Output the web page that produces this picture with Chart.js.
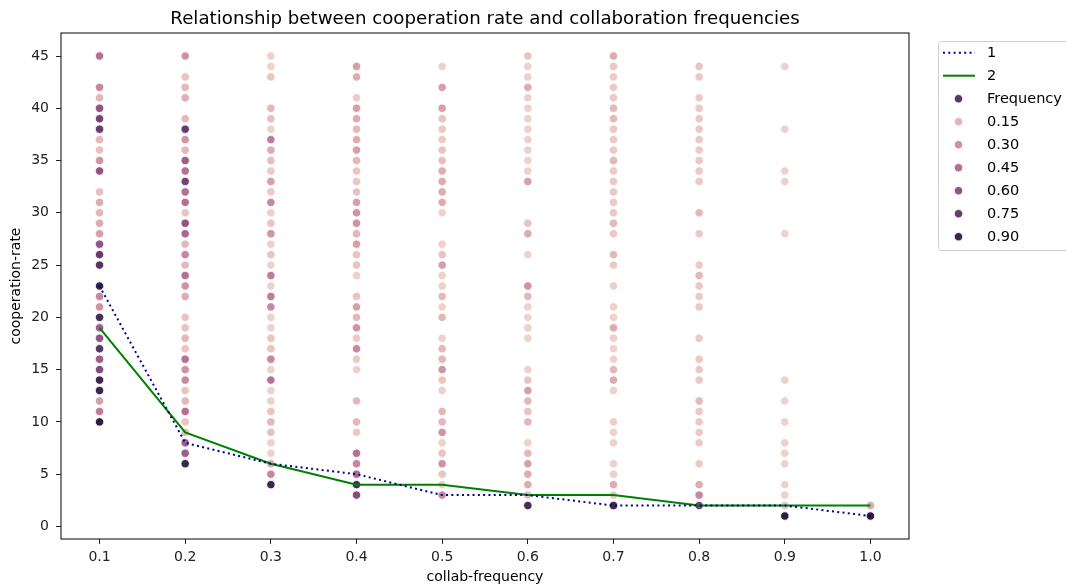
<!DOCTYPE html>
<html>
<head>
  <meta charset="utf-8">
  <title>Cooperation rate vs collaboration frequency</title>
  <script src="https://cdn.jsdelivr.net/npm/chart.js"></script>
  <style>
    body {
      margin: 0;
      background-color: #ffffff;
    }
    canvas {
      display: block;
    }
  </style>
</head>
<body>
  <canvas id="coopChart" width="1066" height="586"></canvas>

  <script>
    const FONT = "'DejaVu Sans', 'Liberation Sans', sans-serif";

    // x categories and the two summary lines
    const collabFreq = [0.1, 0.2, 0.3, 0.4, 0.5, 0.6, 0.7, 0.8, 0.9, 1.0];
    const line1 = [23, 8, 6, 5, 3, 3, 2, 2, 2, 1];
    const line2 = [19, 9, 6, 4, 4, 3, 3, 2, 2, 2];

    // cooperation rates per collab-frequency column, with their Frequency hue
    const rate01 = [45, 42, 41, 40, 39, 38, 37, 36, 35, 34, 32, 31, 30, 29, 28, 27, 26, 25, 23, 22, 21, 20, 19, 18, 17, 16, 15, 14, 13, 12, 11, 10];
    const freq01 = [.45, .35, .15, .6, .7, .75, .15, .12, .3, .6, .12, .2, .15, .2, .25, .6, .75, .8, .92, .35, .3, .85, .55, .6, .8, .55, .65, .9, .9, .25, .4, .95];

    const rate02 = [45, 43, 42, 41, 39, 38, 37, 36, 35, 34, 33, 32, 31, 30, 29, 28, 27, 26, 25, 24, 23, 22, 20, 19, 18, 17, 16, 15, 14, 13, 12, 11, 10, 9, 8, 7, 6];
    const freq02 = [.3, .1, .15, .18, .15, .75, .3, .15, .55, .45, .7, .45, .45, .1, .6, .5, .15, .35, .15, .45, .3, .2, .1, .1, .15, .1, .45, .3, .35, .1, .15, .45, .1, .15, .55, .55, .9];

    const rate03 = [45, 44, 43, 40, 39, 38, 37, 36, 35, 34, 33, 32, 31, 30, 29, 28, 27, 26, 25, 24, 23, 22, 21, 20, 19, 18, 17, 16, 15, 14, 13, 12, 11, 10, 9, 8, 7, 6, 5, 4];
    const freq03 = [.05, .05, .1, .15, .12, .05, .4, .2, .12, .08, .25, .08, .35, .05, .1, .3, .05, .1, .05, .4, .05, .4, .35, .05, .05, .1, .1, .35, .05, .45, .05, .05, .1, .15, .12, .05, .05, .2, .35, .9];

    const rate04 = [44, 43, 41, 40, 39, 38, 37, 36, 35, 34, 33, 32, 31, 30, 29, 28, 27, 26, 25, 24, 22, 21, 20, 19, 18, 17, 16, 15, 12, 10, 9, 7, 6, 5, 4, 3];
    const freq04 = [.25, .2, .08, .25, .2, .15, .2, .25, .15, .1, .08, .1, .25, .3, .3, .15, .25, .1, .1, .05, .1, .25, .15, .3, .08, .35, .08, .05, .15, .15, .08, .45, .35, .5, .85, .65];

    const rate05 = [44, 42, 40, 39, 38, 37, 36, 35, 34, 33, 32, 31, 30, 27, 26, 25, 24, 23, 22, 21, 20, 18, 17, 16, 15, 14, 13, 11, 10, 9, 8, 7, 6, 5, 4, 3];
    const freq05 = [.05, .25, .25, .1, .08, .08, .1, .12, .2, .2, .2, .2, .05, .05, .1, .25, .05, .05, .15, .05, .15, .05, .15, .15, .3, .1, .05, .15, .15, .3, .05, .1, .3, .1, .05, .35];

    const rate06 = [45, 44, 43, 42, 41, 40, 39, 38, 37, 36, 35, 34, 33, 29, 28, 26, 23, 22, 21, 20, 19, 18, 15, 14, 13, 12, 11, 10, 8, 7, 6, 5, 4, 3, 2];
    const freq06 = [.1, .05, .05, .2, .05, .05, .05, .05, .05, .05, .05, .05, .25, .1, .2, .05, .3, .15, .05, .05, .05, .05, .05, .1, .25, .15, .1, .15, .05, .15, .25, .2, .2, .15, .85];

    const rate07 = [45, 44, 43, 42, 41, 40, 39, 38, 37, 36, 35, 34, 33, 32, 31, 30, 29, 28, 26, 25, 23, 21, 20, 19, 18, 17, 16, 15, 14, 13, 10, 9, 8, 6, 5, 4, 3, 2];
    const freq07 = [.2, .08, .08, .08, .08, .15, .15, .08, .08, .08, .15, .08, .08, .08, .08, .08, .15, .08, .15, .08, .05, .05, .05, .2, .05, .05, .05, .15, .2, .05, .05, .05, .05, .05, .05, .2, .1, .9];

    const rate08 = [44, 43, 41, 40, 39, 38, 37, 36, 35, 34, 33, 30, 28, 25, 24, 23, 22, 21, 18, 16, 15, 14, 12, 11, 10, 9, 8, 6, 4, 3, 2];
    const freq08 = [.1, .08, .08, .08, .08, .08, .08, .08, .08, .08, .08, .15, .08, .08, .15, .08, .08, .08, .08, .08, .08, .08, .15, .08, .08, .08, .08, .08, .2, .35, .7];

    const rate09 = [44, 38, 34, 33, 28, 14, 12, 10, 8, 7, 6, 4, 3, 2, 1];
    const freq09 = [.05, .05, .05, .05, .05, .05, .05, .05, .05, .05, .05, .05, .05, .1, .95];

    const rate10 = [2, 1];
    const freq10 = [.2, .95];

    const yTicks = [0, 5, 10, 15, 20, 25, 30, 35, 40, 45];
    const hueLegend = [0.15, 0.30, 0.45, 0.60, 0.75, 0.90];

    const rateCols = [rate01, rate02, rate03, rate04, rate05, rate06, rate07, rate08, rate09, rate10];
    const freqCols = [freq01, freq02, freq03, freq04, freq05, freq06, freq07, freq08, freq09, freq10];

    const points = [];
    rateCols.forEach((rates, i) => {
      rates.forEach((r, j) => points.push({ x: collabFreq[i], y: r, f: freqCols[i][j] }));
    });

    const allFreq = points.map(p => p.f);
    const fMin = Math.min(...allFreq);
    const fMax = Math.max(...allFreq);

    // seaborn-style cubehelix (start 0, rot .4, light .85, dark .15)
    function cubehelix(x) {
      const a = 0.8 * x * (1 - x) / 2;
      const phi = 2 * Math.PI * (0.4 * x);
      const c = Math.cos(phi), s = Math.sin(phi);
      const r = x + a * (-0.14861 * c + 1.78277 * s);
      const g = x + a * (-0.29227 * c - 0.90649 * s);
      const b = x + a * (1.97294 * c);
      const to = v => Math.round(Math.min(1, Math.max(0, v)) * 255);
      return `rgb(${to(r)}, ${to(g)}, ${to(b)})`;
    }

    function hueColor(f) {
      const t = Math.min(1, Math.max(0, (f - fMin) / (fMax - fMin)));
      return cubehelix(0.85 - 0.7 * t);
    }

    // full box around the plot area
    const framePlugin = {
      id: 'frame',
      afterDatasetsDraw(chart) {
        const { ctx, chartArea: a } = chart;
        ctx.save();
        ctx.strokeStyle = '#1a1a1a';
        ctx.lineWidth = 1.1;
        ctx.strokeRect(a.left, a.top, a.right - a.left, a.bottom - a.top);
        ctx.restore();
      }
    };

    const titlePlugin = {
      id: 'plotTitle',
      afterDraw(chart) {
        const { ctx, chartArea: a } = chart;
        ctx.save();
        ctx.font = `18.2px ${FONT}`;
        ctx.fillStyle = '#000';
        ctx.textAlign = 'center';
        ctx.textBaseline = 'alphabetic';
        ctx.fillText('Relationship between cooperation rate and collaboration frequencies', (a.left + a.right) / 2, 24);
        ctx.restore();
      }
    };

    const legendPlugin = {
      id: 'sideLegend',
      afterDraw(chart) {
        const ctx = chart.ctx;
        const x0 = 938.5, y0 = 41.5, rowH = 23, firstRow = 52.7;
        ctx.save();
        ctx.beginPath();
        ctx.roundRect(x0, y0, 140, 209, 3);
        ctx.fillStyle = 'rgba(255,255,255,0.8)';
        ctx.fill();
        ctx.strokeStyle = '#d0d0d0';
        ctx.lineWidth = 1;
        ctx.stroke();

        const rows = [
          { kind: 'line', label: '1', color: '#00008b', dash: [2, 3.3] },
          { kind: 'line', label: '2', color: '#008000', dash: [] },
          { kind: 'dot', label: 'Frequency', color: '#573764' }
        ];
        hueLegend.forEach(v => rows.push({ kind: 'dot', label: v.toFixed(2), color: hueColor(v) }));

        ctx.font = `14.5px ${FONT}`;
        ctx.textBaseline = 'middle';
        ctx.textAlign = 'left';
        rows.forEach((row, i) => {
          const y = firstRow + i * rowH;
          if (row.kind === 'line') {
            ctx.beginPath();
            ctx.setLineDash(row.dash);
            ctx.strokeStyle = row.color;
            ctx.lineWidth = 2;
            ctx.moveTo(943, y);
            ctx.lineTo(975, y);
            ctx.stroke();
            ctx.setLineDash([]);
          } else {
            ctx.beginPath();
            ctx.arc(958.5, y, 4.2, 0, Math.PI * 2);
            ctx.fillStyle = row.color;
            ctx.fill();
            ctx.strokeStyle = '#fff';
            ctx.lineWidth = 0.8;
            ctx.stroke();
          }
          ctx.fillStyle = '#000';
          ctx.fillText(row.label, 987, y + 0.5);
        });
        ctx.restore();
      }
    };

    const tickFont = { family: FONT, size: 14 };

    new Chart(document.getElementById('coopChart'), {
      type: 'scatter',
      data: {
        datasets: [
          {
            type: 'line',
            label: '1',
            data: collabFreq.map((x, i) => ({ x: x, y: line1[i] })),
            borderColor: '#00008b',
            borderWidth: 2,
            borderDash: [2, 3.3],
            pointRadius: 0,
            fill: false,
            tension: 0
          },
          {
            type: 'line',
            label: '2',
            data: collabFreq.map((x, i) => ({ x: x, y: line2[i] })),
            borderColor: '#008000',
            borderWidth: 2,
            pointRadius: 0,
            fill: false,
            tension: 0
          },
          {
            label: 'Frequency',
            data: points,
            pointRadius: 4.2,
            pointBackgroundColor: ctx => hueColor(ctx.raw.f),
            pointBorderColor: '#ffffff',
            pointBorderWidth: 0.8
          }
        ]
      },
      options: {
        responsive: false,
        animation: false,
        events: [],
        layout: { padding: { left: 0, right: 157, top: 33, bottom: 0 } },
        plugins: {
          legend: { display: false },
          tooltip: { enabled: false },
          title: { display: false }
        },
        scales: {
          x: {
            type: 'linear',
            min: 0.055,
            max: 1.045,
            afterBuildTicks: scale => { scale.ticks = collabFreq.map(v => ({ value: v })); },
            afterFit: scale => { scale.height = 47; },
            ticks: {
              font: tickFont,
              color: '#222',
              padding: 4.5,
              maxRotation: 0,
              callback: v => Number(v).toFixed(1)
            },
            grid: { drawOnChartArea: false, drawTicks: true, tickLength: 5, tickColor: '#222', tickWidth: 1 },
            border: { display: false },
            title: {
              display: true,
              text: 'collab-frequency',
              font: tickFont,
              color: '#000',
              padding: { top: 0, bottom: 0 }
            }
          },
          y: {
            type: 'linear',
            min: -1.2,
            max: 47.2,
            afterBuildTicks: scale => { scale.ticks = yTicks.map(v => ({ value: v })); },
            afterFit: scale => { scale.width = 61; },
            ticks: { font: tickFont, color: '#222', padding: 7 },
            grid: { drawOnChartArea: false, drawTicks: true, tickLength: 5, tickColor: '#222', tickWidth: 1 },
            border: { display: false },
            title: {
              display: true,
              text: 'cooperation-rate',
              font: tickFont,
              color: '#000',
              padding: { top: 7.5, bottom: 0 }
            }
          }
        }
      },
      plugins: [framePlugin, titlePlugin, legendPlugin]
    });
  </script>
</body>
</html>
